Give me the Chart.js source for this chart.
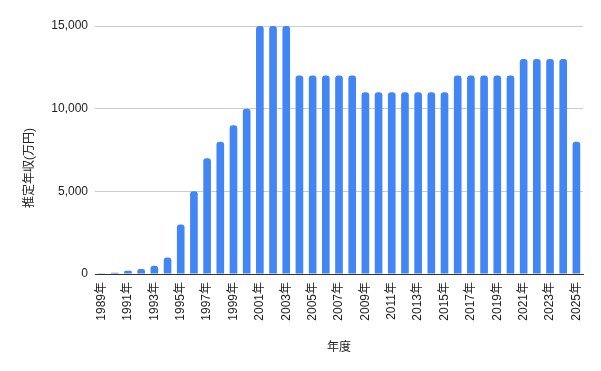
<!DOCTYPE html>
<html>
<head>
<meta charset="utf-8">
<script src="https://cdn.jsdelivr.net/npm/chart.js@4"></script>
<style>
  html, body { margin: 0; padding: 0; background: #fff; }
  #wrap { width: 601px; height: 371px; }
</style>
</head>
<body>
<div id="wrap"><canvas id="myChart" width="601" height="371"></canvas></div>
<script>
// years shown on the x axis
var years = ['1989年','1990年','1991年','1992年','1993年','1994年','1995年','1996年','1997年','1998年',
  '1999年','2000年','2001年','2002年','2003年','2004年','2005年','2006年','2007年','2008年',
  '2009年','2010年','2011年','2012年','2013年','2014年','2015年','2016年','2017年','2018年',
  '2019年','2020年','2021年','2022年','2023年','2024年','2025年'];
// estimated salary (10k yen)
var salary = [20, 80, 200, 300, 500, 1000, 3000, 5000, 7000, 8000,
  9000, 10000, 15000, 15000, 15000, 12000, 12000, 12000, 12000, 12000,
  11000, 11000, 11000, 11000, 11000, 11000, 11000, 12000, 12000, 12000,
  12000, 12000, 13000, 13000, 13000, 13000, 8000];
var yTicks = [0, 5000, 10000, 15000];

var fontFam = "'Liberation Sans', Arial, 'Noto Sans CJK JP', sans-serif";

var ctx = document.getElementById('myChart');
var myChart = new Chart(ctx, {
  type: 'bar',
  data: {
    labels: years,
    datasets: [{
      data: salary,
      backgroundColor: '#4285F4',
      borderRadius: 3,
      borderSkipped: 'start',
      categoryPercentage: 1,
      barPercentage: 0.58
    }]
  },
  options: {
    responsive: false,
    animation: false,
    layout: { padding: { top: 26, right: 18, left: 0, bottom: 0 } },
    plugins: { legend: { display: false }, tooltip: { enabled: false } },
    scales: {
      x: {
        grid: { display: false, drawTicks: false },
        border: { display: true, color: '#333333', width: 1 },
        ticks: {
          autoSkip: false,
          minRotation: 90,
          maxRotation: 90,
          padding: 8,
          color: '#222222',
          font: { family: fontFam, size: 12 },
          callback: function (v, i) { return i % 2 === 0 ? years[i] : ''; }
        },
        title: {
          display: true,
          text: '年度',
          color: '#222222',
          font: { family: fontFam, size: 12 },
          padding: { top: 0, bottom: 16 }
        },
        afterFit: function (s) { s.height = 97; }
      },
      y: {
        min: 0,
        max: 15000,
        afterBuildTicks: function (s) { s.ticks = yTicks.map(function (v) { return { value: v }; }); },
        grid: {
          drawTicks: false,
          color: function (c) { return c.tick && c.tick.value === 0 ? '#333333' : '#cccccc'; }
        },
        border: { display: false },
        ticks: {
          padding: 7,
          color: '#222222',
          font: { family: fontFam, size: 12 },
          callback: function (v) { return v.toLocaleString('en-US'); }
        },
        title: {
          display: true,
          text: '推定年収(万円)\u3000\u3000\u3000',
          color: '#222222',
          font: { family: fontFam, size: 12 },
          padding: { top: 22, bottom: 0 }
        },
        afterFit: function (s) { s.width = 95; }
      }
    }
  }
});
</script>
</body>
</html>
